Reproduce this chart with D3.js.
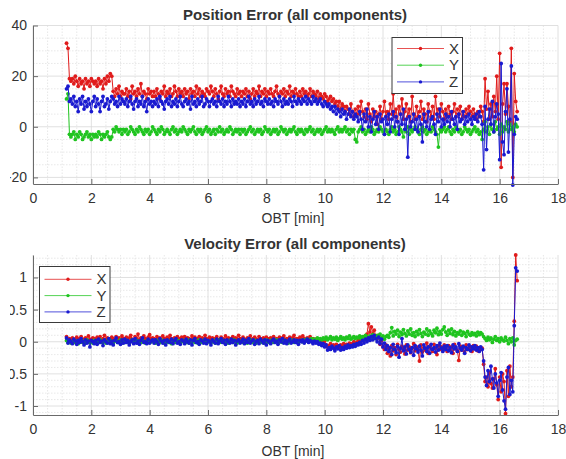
<!DOCTYPE html>
<html><head><meta charset="utf-8">
<script src="https://cdn.jsdelivr.net/npm/d3@7"></script>
<style>
body{margin:0;background:#fff}
svg{display:block}
text{font-family:"Liberation Sans",Arial,Helvetica,sans-serif;fill:#333}
</style>
</head><body>
<svg id="chart" width="566" height="459"></svg>
<script>
// ---- sampling of OBT [min] ----
const obtStart = 1.15, obtStep = 0.05;

// ---- Position error [m] ----
const posX = [
33,31,19,18,19,17,20,18,16,19,17,18,15,19,17,18,16,19,18,17,
18,16,19,17,18,15,19,17,20,18,21,20,14,12,15,13,16,12,14,13,
13,15,12,14,11,16,13,14,12,15,13,17,12,14,13,11,15,13,14,12,
14,12,15,13,11,14,13,16,12,14,13,15,12,13,16,14,12,15,13,14,
12,15,13,14,11,15,13,14,12,16,13,15,12,14,13,12,15,14,13,16,
14,12,15,13,11,14,16,13,12,15,13,14,12,16,14,13,12,15,13,14,
12,14,13,15,12,14,11,13,15,12,14,13,16,12,14,13,15,12,14,13,
15,13,12,14,16,13,12,14,13,15,12,14,13,16,12,14,13,15,13,12,
14,12,15,13,14,12,13,15,12,14,13,12,14,11,13,12,11,13,12,10,
11,12,10,11,9,10,8,10,7,9,8,6,8,7,5,9,6,4,7,5,
8,5,10,6,4,7,3,9,5,2,7,4,6,1,5,8,3,6,10,4,
6,3,9,5,13,4,7,2,8,5,11,3,6,9,4,7,2,12,5,3,
8,4,6,10,3,7,5,2,9,6,4,8,3,12,5,7,4,9,6,3,
7,4,8,5,3,6,9,4,7,5,8,3,6,4,7,5,8,6,4,7,
5,3,6,4,8,6,2,19,7,14,3,9,4,12,6,20,3,29,-16,9,
17,5,17,8,2,31,-20,21,10,6
];
const posY = [
11,13,-3,-4,-3,-2,-5,-3,-4,-2,-3,-5,-4,-3,-2,-4,-3,-5,-3,-4,
-3,-4,-2,-3,-5,-3,-4,-3,-2,-4,-5,-4,-1,-2,0,-1,-2,-1,-3,-1,
-2,-1,-3,-2,0,-1,-2,-3,-1,-2,0,-1,-2,-3,-1,-2,-1,-3,-2,0,
-1,-2,-3,-1,-2,0,-1,-3,-2,-1,-2,-3,-1,0,-2,-1,-3,-2,-1,-2,
0,-1,-2,-3,-1,-2,-1,0,-2,-3,-1,-2,-1,-3,-2,-1,0,-2,-1,-3,
-2,-1,-3,-1,-2,0,-2,-1,-3,-2,-1,-2,0,-1,-3,-2,-1,-2,-1,-3,
-1,-2,-1,-3,-2,-1,0,-2,-1,-3,-2,-1,-2,-1,-3,-2,0,-1,-2,-1,
-3,-2,-1,-2,-1,-3,-2,0,-1,-2,-1,-3,-2,-1,-2,-1,0,-2,-3,-1,
-2,-1,-2,-3,-1,-2,-1,0,-2,-1,-3,-2,-1,-2,-1,-3,-2,-1,0,-2,
-1,-2,-1,-2,-3,-1,0,-2,-1,-2,-1,0,-2,-1,-3,-1,-2,-1,-5,-6,
-2,-1,0,-2,-1,-3,-2,-1,-2,0,-1,-3,-2,-1,-2,0,-1,-2,-3,-1,
-2,-3,-1,0,-2,-1,-3,-2,0,-1,-2,-4,-1,-2,0,-3,-1,-2,-1,0,
-1,-2,-3,-1,0,-2,-1,-3,-2,-1,-2,0,-1,-2,-3,-8,-1,-2,-1,0,
-2,-1,0,-2,-3,-1,-2,0,-1,-2,-1,-3,-2,0,-1,-2,-1,-3,-2,-1,
0,-2,-1,-3,-2,-5,-1,2,-2,0,-3,1,-1,-2,2,-1,0,-3,1,-2,
0,-1,2,-2,1,-1,0,-2,1,0
];
const posZ = [
15,16,10,11,9,12,8,10,6,11,9,12,7,10,8,11,9,6,10,12,
8,11,9,6,10,12,8,9,11,7,10,12,11,9,10,8,12,9,11,10,
9,11,8,10,12,9,7,10,11,8,10,9,12,8,10,6,11,9,10,8,
10,9,11,8,12,10,9,7,10,11,9,12,8,10,9,11,8,10,12,9,
8,10,11,9,10,7,12,9,10,8,11,9,10,12,8,9,11,10,8,10,
11,9,10,8,12,10,9,11,8,10,9,12,10,8,11,9,10,9,11,8,
10,9,11,8,10,12,9,10,8,11,9,10,12,9,10,8,11,10,9,11,
9,10,8,11,10,9,12,10,8,11,9,10,9,11,10,8,12,10,9,11,
10,9,11,10,12,9,11,10,9,12,10,11,9,10,11,9,8,10,9,8,
9,7,8,6,8,5,7,6,4,7,5,6,3,5,7,4,6,3,5,4,
2,6,3,-1,5,2,7,0,4,-2,3,6,1,4,-1,5,2,3,-3,4,
1,5,-2,3,6,0,4,2,-3,5,1,7,-1,3,-12,4,0,2,5,-1,
3,-2,4,1,-6,5,2,0,6,-1,3,4,1,-3,5,2,7,0,3,1,
5,2,4,0,6,3,1,4,-1,5,2,3,6,1,4,2,5,3,1,4,
3,5,2,6,4,1,-17,8,-9,3,7,1,10,-2,4,9,5,-13,25,-6,
-11,6,15,-10,3,24,-23,-3,4,3
];

// ---- Velocity error [m/s] ----
const velX = [
0.08,0.03,0.05,0.01,0.06,0.04,0.02,0.07,0.03,0.05,0.08,0.02,0.04,0.06,0.03,0.09,0.04,0.02,0.06,0.05,
0.03,0.07,0.04,0.08,0.02,0.05,0.10,0.03,0.06,0.04,0.02,0.07,0.05,0.03,0.08,0.04,0.06,0.02,0.09,0.05,
0.04,0.07,0.03,0.06,0.10,0.04,0.02,0.08,0.05,0.12,0.03,0.06,0.04,0.09,0.05,0.03,0.07,0.11,0.04,0.06,
0.05,0.03,0.08,0.04,0.06,0.02,0.09,0.05,0.03,0.07,0.04,0.10,0.05,0.02,0.06,0.04,0.08,0.03,0.05,0.07,
0.04,0.08,0.02,0.06,0.05,0.03,0.09,0.04,0.07,0.02,0.05,0.08,0.03,0.06,0.04,0.10,0.05,0.03,0.07,0.04,
0.06,0.03,0.05,0.08,0.02,0.04,0.07,0.05,0.03,0.09,0.04,0.06,0.02,0.05,0.08,0.03,0.06,0.04,0.10,0.05,
0.03,0.07,0.04,0.02,0.06,0.05,0.09,0.03,0.05,0.07,0.04,0.02,0.08,0.05,0.03,0.06,0.04,0.07,0.02,0.05,
0.06,0.04,0.08,0.03,0.05,0.02,0.07,0.04,0.06,0.09,0.03,0.05,0.04,0.07,0.02,0.06,0.10,0.04,0.05,0.03,
0.07,0.04,0.09,0.05,0.03,0.06,0.04,0.08,0.02,0.05,0.03,0.04,0.01,0.02,0.00,0.03,-0.01,0.01,-0.05,-0.08,
-0.06,-0.03,-0.08,-0.05,-0.10,-0.04,-0.07,-0.09,-0.05,-0.08,-0.03,-0.06,-0.04,-0.07,-0.02,-0.05,-0.03,0.00,-0.04,-0.01,
0.02,0.05,0.01,0.06,0.08,0.03,0.12,0.28,0.15,0.23,0.12,0.18,0.09,0.05,0.10,-0.04,0.02,-0.08,-0.12,-0.05,
-0.18,-0.10,-0.22,-0.06,-0.14,-0.09,-0.20,-0.04,-0.12,-0.16,-0.07,-0.11,-0.19,-0.05,-0.13,-0.08,-0.17,-0.10,-0.03,-0.14,
-0.08,-0.12,-0.30,-0.05,-0.16,-0.09,-0.13,-0.02,-0.18,-0.07,-0.11,-0.15,-0.04,-0.10,-0.20,-0.06,-0.12,-0.08,-0.14,-0.05,
-0.10,-0.15,-0.06,-0.12,-0.08,-0.18,-0.04,-0.11,-0.14,-0.29,-0.07,-0.13,-0.09,-0.16,-0.05,-0.12,-0.10,-0.08,-0.15,-0.06,
-0.11,-0.07,-0.14,-0.09,-0.12,-0.10,-0.35,-0.62,-0.55,-0.70,-0.48,-0.65,-0.72,-0.58,-0.42,-0.67,-0.90,-0.55,-0.78,-0.50,
-0.62,-1.12,-0.45,-0.85,-0.38,-0.70,-0.55,0.32,1.35,0.95
];
const velY = [
0.02,-0.01,0.01,-0.02,0.00,0.02,-0.01,0.01,-0.03,0.00,0.02,-0.01,0.01,-0.02,0.03,0.00,-0.01,0.01,-0.02,0.02,
0.00,-0.02,0.01,0.03,-0.01,0.00,0.02,-0.02,0.01,-0.01,0.02,0.00,-0.03,0.01,0.02,-0.01,0.00,0.03,-0.02,0.01,
-0.01,0.02,0.00,-0.02,0.01,0.03,-0.01,0.00,0.02,-0.02,0.01,-0.01,0.03,0.00,-0.02,0.01,0.02,-0.01,0.00,0.02,
0.01,-0.02,0.02,0.00,-0.01,0.03,0.01,-0.02,0.00,0.02,-0.01,0.01,-0.03,0.02,0.00,-0.01,0.02,0.01,-0.02,0.00,
0.02,0.00,-0.01,0.03,-0.02,0.01,0.00,0.02,-0.01,0.01,-0.02,0.03,0.00,-0.01,0.02,0.01,-0.02,0.00,0.01,-0.01,
0.00,0.02,-0.02,0.01,0.03,-0.01,0.00,0.02,-0.01,0.01,0.00,-0.02,0.02,0.01,-0.01,0.03,0.00,-0.02,0.01,0.00,
0.01,-0.01,0.02,0.00,-0.02,0.01,0.03,-0.01,0.00,0.02,-0.02,0.01,0.00,0.02,-0.01,0.01,-0.02,0.03,0.00,-0.01,
0.02,0.00,-0.01,0.01,0.03,-0.02,0.00,0.02,-0.01,0.01,0.02,0.00,-0.02,0.01,0.03,0.00,-0.01,0.02,0.01,0.00,
0.01,0.02,0.00,0.03,0.01,0.04,0.02,0.03,0.05,0.02,0.04,0.03,0.06,0.02,0.05,0.03,0.06,0.04,0.07,0.03,
0.05,0.08,0.03,0.06,0.04,0.07,0.02,0.05,0.08,0.04,0.06,0.03,0.07,0.05,0.09,0.04,0.06,0.08,0.05,0.07,
0.06,0.09,0.05,0.08,0.04,0.10,0.07,0.05,0.09,0.06,0.11,0.08,0.05,0.10,0.07,0.12,0.06,0.09,0.04,0.08,
0.10,0.07,0.14,0.22,0.09,0.16,0.12,0.18,0.08,0.15,0.11,0.19,0.13,0.09,0.17,0.12,0.20,0.10,0.14,0.08,
0.16,0.11,0.19,0.13,0.08,0.15,0.12,0.20,0.10,0.17,0.13,0.09,0.18,0.14,0.21,0.11,0.16,0.12,0.19,0.23,
0.15,0.10,0.18,0.13,0.20,0.11,0.16,0.09,0.14,0.12,0.17,0.10,0.15,0.13,0.08,0.16,0.12,0.10,0.14,0.11,
0.13,0.09,0.15,0.11,0.14,0.12,0.08,0.05,0.02,0.07,0.03,0.06,-0.01,0.04,0.08,0.02,0.05,0.00,0.06,0.03,
0.01,0.07,0.02,-0.03,0.05,0.00,0.06,-0.05,0.02,0.04
];
const velZ = [
0.06,-0.02,0.03,0.00,-0.03,0.04,0.01,-0.04,0.02,-0.01,0.05,0.00,-0.05,0.03,-0.02,0.01,-0.08,0.02,0.00,-0.03,
0.02,-0.04,0.04,-0.01,0.01,-0.06,0.03,0.00,-0.02,0.05,-0.03,0.01,-0.05,0.02,0.06,-0.01,0.00,-0.04,0.03,-0.02,
0.04,-0.01,0.02,-0.05,0.00,0.03,-0.03,0.05,-0.02,0.01,-0.04,0.02,0.06,-0.01,0.00,-0.03,0.04,-0.02,0.01,0.03,
-0.02,0.03,0.00,-0.04,0.05,0.01,-0.02,0.02,-0.05,0.03,0.00,-0.01,0.04,-0.03,0.02,0.05,-0.02,0.00,-0.04,0.03,
0.01,-0.03,0.04,0.00,-0.02,0.03,-0.05,0.02,0.05,-0.01,0.00,-0.04,0.03,0.01,-0.02,0.04,-0.03,0.02,0.00,-0.05,
0.03,0.00,-0.02,0.04,-0.03,0.01,0.05,-0.01,0.02,-0.04,0.03,0.00,-0.02,0.04,-0.01,0.02,-0.05,0.01,0.03,-0.02,
0.00,0.04,-0.03,0.02,-0.01,0.05,-0.02,0.01,0.03,-0.04,0.00,0.02,-0.03,0.04,0.01,-0.02,0.03,-0.05,0.02,0.00,
-0.03,0.02,0.04,-0.01,0.01,-0.04,0.03,0.00,0.05,-0.02,0.02,-0.03,0.01,0.04,-0.02,0.00,0.03,-0.01,0.02,-0.04,
0.02,0.00,0.03,-0.02,0.01,0.04,-0.01,0.02,0.00,-0.03,0.01,-0.02,0.00,-0.04,-0.02,-0.06,-0.03,-0.08,-0.05,-0.13,
-0.09,-0.12,-0.07,-0.10,-0.14,-0.08,-0.11,-0.06,-0.13,-0.09,-0.12,-0.07,-0.10,-0.05,-0.09,-0.06,-0.08,-0.04,-0.07,-0.03,
-0.05,-0.01,-0.04,0.02,-0.02,0.04,0.00,0.06,0.02,0.08,0.03,0.10,0.05,0.00,0.07,-0.03,0.04,-0.08,-0.02,-0.12,
-0.06,-0.15,-0.09,-0.20,-0.04,-0.12,-0.17,-0.07,-0.24,-0.10,0.05,-0.14,-0.08,-0.19,-0.05,-0.12,-0.16,-0.09,-0.21,-0.06,
-0.11,-0.16,-0.07,-0.13,-0.22,-0.05,-0.10,-0.15,-0.08,-0.18,-0.04,-0.12,-0.09,-0.16,-0.06,-0.13,-0.02,-0.10,-0.15,-0.07,
-0.12,-0.06,-0.14,-0.09,-0.17,-0.05,-0.11,-0.08,-0.15,-0.03,-0.10,-0.13,-0.07,-0.18,-0.09,-0.12,-0.05,-0.14,-0.08,-0.11,
-0.06,-0.13,-0.09,-0.15,-0.08,-0.12,-0.30,-0.55,-0.68,-0.45,-0.62,-0.38,-0.58,-0.72,-0.50,-0.64,-0.85,-0.60,-0.48,-0.75,
-0.92,-1.05,-0.55,-0.40,-0.82,-0.60,-0.78,0.25,1.15,1.10
];

// ---- labels / ticks ----
const seriesNames = ["X", "Y", "Z"];
const xTicks = [0, 2, 4, 6, 8, 10, 12, 14, 16, 18];
const posTicks = [-20, 0, 20, 40];
const velTicks = [-1, -0.5, 0, 0.5, 1];
const titles = ["Position Error (all components)", "Velocity Error (all components)"];
const xLabel = "OBT [min]";

// ---- styling ----
const colors = ["#e01b1b", "#1fc41f", "#1a1ad0"];
const axisColor = "#6a6a6a";
const svg = d3.select("#chart");

function panel(cfg) {
  const x = d3.scaleLinear().domain([0, 18]).range([33, 558]);
  const y = d3.scaleLinear().domain(cfg.yDomain).range([cfg.yBottom, cfg.yTop]);
  const g = svg.append("g");

  // minor grid
  const xMinor = d3.range(0, 18.001, 0.5).filter(v => Math.abs(v % 2) > 1e-6);
  const yMinor = d3.range(cfg.minorStart, cfg.yDomain[1] + 1e-9, cfg.minorStep)
    .filter(v => !cfg.ticks.some(t => Math.abs(t - v) < 1e-6));
  g.selectAll(".xm").data(xMinor).join("line")
    .attr("x1", d => x(d)).attr("x2", d => x(d)).attr("y1", cfg.yTop).attr("y2", cfg.yBottom)
    .attr("stroke", "#e2e2e2").attr("stroke-width", 0.8).attr("stroke-dasharray", "1.5,1.5");
  g.selectAll(".ym").data(yMinor).join("line")
    .attr("x1", 33).attr("x2", 558).attr("y1", d => y(d)).attr("y2", d => y(d))
    .attr("stroke", "#e2e2e2").attr("stroke-width", 0.8).attr("stroke-dasharray", "1.5,1.5");
  // major grid
  g.selectAll(".xg").data(xTicks).join("line")
    .attr("x1", d => x(d)).attr("x2", d => x(d)).attr("y1", cfg.yTop).attr("y2", cfg.yBottom)
    .attr("stroke", "#d8d8d8").attr("stroke-width", 0.8);
  g.selectAll(".yg").data(cfg.ticks).join("line")
    .attr("x1", 33).attr("x2", 558).attr("y1", d => y(d)).attr("y2", d => y(d))
    .attr("stroke", "#d8d8d8").attr("stroke-width", 0.8);

  // data
  const line = d3.line().x((d, i) => x(obtStart + i * obtStep)).y(d => y(d));
  cfg.series.forEach((s, k) => {
    const sg = g.append("g");
    sg.append("path").datum(s).attr("d", line).attr("fill", "none")
      .attr("stroke", colors[k]).attr("stroke-width", 1);
    sg.selectAll("circle").data(s).join("circle")
      .attr("cx", (d, i) => x(obtStart + i * obtStep)).attr("cy", d => y(d))
      .attr("r", 1.9).attr("fill", colors[k]);
  });

  // axes
  const xa = g.append("g").attr("transform", `translate(0,${cfg.yBottom})`)
    .call(d3.axisBottom(x).tickValues(xTicks).tickSizeInner(-5).tickSizeOuter(0).tickPadding(9).tickFormat(d3.format("d")));
  const clipId = "clip" + cfg.id;
  // clip in the tick's local coordinates (axis group is translated by 33 px): page x >= 10
  svg.append("clipPath").attr("id", clipId).append("rect")
    .attr("x", -23).attr("y", -1000).attr("width", 600).attr("height", 2000);
  const ya = g.append("g").attr("transform", "translate(33,0)")
    .call(d3.axisLeft(y).tickValues(cfg.ticks).tickSizeInner(-5).tickSizeOuter(0).tickPadding(6).tickFormat(d => String(d)));
  [xa, ya].forEach(a => {
    a.select(".domain").attr("stroke", axisColor);
    a.selectAll(".tick line").attr("stroke", axisColor);
    a.selectAll("text").attr("font-size", 14).attr("fill", "#3a3a3a")
      .style("font-family", '"Liberation Sans", Arial, sans-serif');
  });
  ya.selectAll(".tick text").attr("clip-path", `url(#${clipId})`);

  // title & label
  g.append("text").attr("x", 295).attr("y", cfg.titleY).attr("text-anchor", "middle")
    .attr("font-size", 15).attr("font-weight", "bold").attr("fill", "#111").text(cfg.title);
  g.append("text").attr("x", 293).attr("y", cfg.labelY).attr("text-anchor", "middle")
    .attr("font-size", 14).attr("fill", "#333").text(xLabel);

  // legend
  const L = cfg.legend;
  const lg = g.append("g");
  lg.append("rect").attr("x", L.x).attr("y", L.y).attr("width", L.w).attr("height", L.h)
    .attr("fill", "#fff").attr("stroke", "#3a3a3a").attr("stroke-width", 1);
  seriesNames.forEach((n, k) => {
    const yy = L.y + L.row0 + k * L.dy;
    lg.append("line").attr("x1", L.x + 5).attr("x2", L.x + 52).attr("y1", yy).attr("y2", yy)
      .attr("stroke", colors[k]).attr("stroke-width", 0.9).attr("stroke-opacity", 0.85);
    lg.append("circle").attr("cx", L.x + 28.5).attr("cy", yy).attr("r", 1.7).attr("fill", colors[k]);
    lg.append("text").attr("x", L.x + 57).attr("y", yy + 5).attr("font-size", 15).attr("fill", "#222").text(n);
  });
}

panel({
  id: 1, yDomain: [-22.6, 40], yTop: 25.5, yBottom: 184, ticks: posTicks, minorStart: -20, minorStep: 5,
  series: [posX, posY, posZ], title: titles[0], titleY: 20, labelY: 223,
  legend: { x: 392, y: 37.5, w: 70.5, h: 56, row0: 11, dy: 16.7 }
});
panel({
  id: 2, yDomain: [-1.14, 1.35], yTop: 255, yBottom: 415, ticks: velTicks, minorStart: -1.1, minorStep: 0.1,
  series: [velX, velY, velZ], title: titles[1], titleY: 249, labelY: 456,
  legend: { x: 39.5, y: 266.5, w: 70.5, h: 56, row0: 12.8, dy: 16.3 }
});
</script>
</body></html>
